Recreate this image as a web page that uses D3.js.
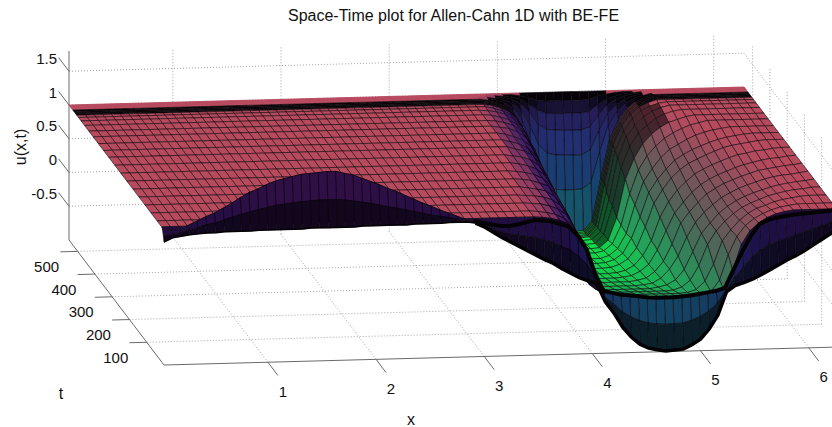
<!DOCTYPE html>
<html>
<head>
<meta charset="utf-8">
<script src="https://cdn.jsdelivr.net/npm/d3@7"></script>
<style>
    body { margin: 0; background: #fff; }
    text { font-family: "Liberation Sans", sans-serif; fill: #111; }
</style>
</head>
<body>
<svg id="plot"></svg>
<script>
//Data
const xTicks = [1, 2, 3, 4, 5, 6];
const tTicks = [100, 200, 300, 400, 500];
const zTicks = [-0.5, 0, 0.5, 1, 1.5];
const xValues = d3.range(0.04, 6.3, 0.08);
const tValues = [0, 4, 9, 14, 40, 75, 110, 145, 180, 215, 250, 285, 320, 350, 380, 410, 435, 460, 480, 495, 505, 510, 516, 522, 528, 534, 538, 541, 544, 547, 550];

const flatLeft = [1,1,1,1,1,1,1,1,1,1,1,1,1,1,1,1,1,1,1,1,1,1,1,1,1,1,1,1,1,1,1,1,1,1,1,1,1,1,1,1,1,1,1,1];
const row0 = [.82,.88,.9,.92,.93,.94,.94,.95,.95,.95,.95,.96,.96,.96,.96,.96,.96,.97,.97,.97,.97,.97,.97,.98,.98,.98,.98,.98,.98,.99,.99,.99,.99,1,1,1,.98,.92,.84,.76,.69,.62,.55,.48,
    .41,.35,.27,.2,.13,.08,.04,-.24,-.41,-.62,-.77,-.88,-.94,-.97,-.99,-.98,-.97,-.91,-.83,-.68,-.48,-.14,-.05,-.01,.04,.1,.17,.24,.31,.37,.44,.52,.6,.68,.76];
const row4 = [.9,.92,.94,.98,1.01,1.05,1.07,1.11,1.15,1.19,1.22,1.25,1.28,1.31,1.32,1.34,1.35,1.36,1.37,1.37,1.37,1.36,1.34,1.32,1.3,1.27,1.24,1.22,1.19,1.16,1.13,1.1,1.08,1.06,1.03,1,.98,.94,.88,.83,.79,.77,.75,.73,
    .69,.65,.59,.53,.43,.3,.1,-.18,-.28,-.4,-.48,-.54,-.58,-.6,-.61,-.6,-.6,-.56,-.51,-.43,-.32,-.13,.06,.2,.35,.46,.53,.58,.62,.66,.7,.75,.79,.84,.88];
const row9 = [.98,.96,.97,1.03,1.09,1.15,1.2,1.27,1.34,1.42,1.49,1.54,1.6,1.65,1.68,1.71,1.74,1.75,1.76,1.77,1.77,1.74,1.71,1.66,1.61,1.56,1.5,1.45,1.39,1.33,1.27,1.22,1.16,1.11,1.06,1.01,.98,.95,.92,.9,.89,.91,.94,.97,
    .96,.94,.9,.86,.72,.52,.15,-.11,-.14,-.17,-.18,-.2,-.22,-.23,-.23,-.23,-.22,-.21,-.19,-.17,-.15,-.11,.16,.42,.65,.82,.88,.91,.93,.95,.96,.97,.98,.99,1];
const tail14 = [.99,.97,.94,.88,.76,.48,.05,-.17,-.24,-.25,-.25,-.25,-.25,-.25,-.25,-.25,-.25,-.25,-.25,-.25,-.24,-.17,.12,.51,.71,.82,.9,.95,.98,1,1,1,1,1,1];
const tail40 = [.99,.97,.94,.88,.77,.49,.06,-.2,-.29,-.32,-.32,-.32,-.32,-.32,-.32,-.32,-.32,-.32,-.32,-.31,-.27,-.1,.27,.54,.7,.8,.87,.92,.96,.98,1,1,1,1,1];
const tail75 = [.99,.98,.95,.9,.81,.59,.19,-.2,-.35,-.39,-.4,-.4,-.4,-.4,-.4,-.4,-.4,-.4,-.39,-.35,-.23,.02,.36,.52,.66,.76,.83,.87,.92,.95,.97,.99,1,1,1];
const tail110 = [.99,.98,.96,.92,.83,.66,.26,-.21,-.42,-.47,-.48,-.48,-.48,-.48,-.48,-.48,-.48,-.47,-.43,-.33,-.12,.19,.39,.53,.64,.73,.79,.84,.89,.92,.95,.97,.98,1,1];
const tail145 = [1,.98,.96,.93,.85,.7,.34,-.19,-.47,-.54,-.56,-.56,-.56,-.56,-.56,-.56,-.54,-.51,-.44,-.29,-.03,.24,.39,.53,.63,.71,.77,.82,.86,.9,.93,.95,.97,.98,1];
const tail180 = [1,.99,.97,.93,.88,.74,.43,-.09,-.45,-.6,-.63,-.63,-.63,-.63,-.63,-.62,-.6,-.53,-.4,-.21,.07,.28,.43,.54,.64,.71,.77,.82,.86,.9,.93,.95,.96,.98,1];
const tail215 = [1,.99,.97,.94,.88,.77,.5,.02,-.45,-.63,-.68,-.69,-.69,-.69,-.69,-.67,-.64,-.55,-.4,-.15,.16,.32,.46,.58,.66,.73,.78,.83,.87,.91,.93,.95,.97,.98,1];
const tail250 = [1,1,.98,.95,.9,.8,.6,.12,-.43,-.68,-.73,-.75,-.75,-.75,-.74,-.72,-.66,-.56,-.35,-.07,.19,.35,.49,.6,.68,.74,.79,.84,.88,.91,.94,.96,.97,.99,1];
const tail285 = [1,1,.98,.96,.92,.83,.66,.24,-.37,-.69,-.78,-.8,-.8,-.8,-.79,-.76,-.69,-.55,-.33,.01,.24,.41,.53,.64,.71,.77,.82,.87,.91,.93,.96,.97,.99,1,1];
const tail320 = [1,1,1,.96,.93,.86,.71,.36,-.23,-.64,-.8,-.84,-.84,-.84,-.83,-.79,-.71,-.55,-.25,.1,.3,.47,.59,.68,.74,.8,.85,.9,.93,.95,.97,.99,1,1,1];
const tail350 = [1,1,1,.97,.93,.87,.74,.45,-.08,-.61,-.8,-.86,-.87,-.87,-.86,-.82,-.73,-.51,-.2,.16,.35,.5,.63,.71,.78,.83,.88,.92,.95,.97,.99,1,1,1,1];
const tail380 = [1,1,1,.98,.94,.89,.79,.56,.05,-.56,-.82,-.88,-.9,-.9,-.9,-.86,-.76,-.54,-.12,.22,.41,.57,.69,.76,.83,.89,.93,.96,.98,1,1,1,1,1,1];
const tail410 = [1,1,1,.98,.96,.91,.82,.64,.19,-.46,-.8,-.9,-.92,-.92,-.92,-.89,-.79,-.52,-.06,.29,.5,.64,.75,.83,.89,.94,.97,1,1,1,1,1,1,1,1];
const tail435 = [1,1,1,.99,.96,.92,.83,.66,.24,-.38,-.77,-.9,-.94,-.94,-.94,-.93,-.82,-.49,.07,.38,.59,.73,.83,.9,.94,.98,1,1,1,1,1,1,1,1,1];
const tail460 = [1,1,1,.99,.96,.92,.84,.71,.36,-.22,-.72,-.9,-.95,-.96,-.96,-.95,-.82,-.41,.16,.47,.67,.78,.88,.94,.98,1,1,1,1,1,1,1,1,1,1];
const tail480 = [1,1,1,.99,.97,.93,.86,.73,.42,-.14,-.69,-.9,-.96,-.97,-.97,-.96,-.85,-.38,.23,.55,.71,.84,.92,.97,1,1,1,1,1,1,1,1,1,1,1];
const tail495 = [1,1,1,1,.97,.93,.87,.74,.49,-.05,-.66,-.92,-.97,-.98,-.98,-.97,-.84,-.31,.29,.58,.76,.88,.94,.98,1,1,1,1,1,1,1,1,1,1,1];
const tail505 = [1,1,1,1,.98,.94,.88,.76,.52,.02,-.62,-.92,-.98,-1,-1,-.99,-.85,-.22,.34,.63,.8,.9,.96,1,1,1,1,1,1,1,1,1,1,1,1];
const tail534 = [1,1,1,1,.99,.96,.92,.83,.66,.31,-.13,-.34,-.39,-.4,-.4,-.39,-.3,.15,.54,.74,.86,.93,.97,1,1,1,1,1,1,1,1,1,1,1,1];
const tail538 = [1,1,1,1,.99,.97,.95,.89,.78,.56,.27,.14,.11,.1,.1,.1,.17,.45,.7,.83,.91,.96,.98,1,1,1,1,1,1,1,1,1,1,1,1];
const tail541 = [1,1,1,1,1,.98,.97,.94,.87,.74,.56,.48,.47,.46,.46,.46,.5,.67,.82,.9,.95,.97,.99,1,1,1,1,1,1,1,1,1,1,1,1];
const tail544 = [1,1,1,1,1,.99,.98,.96,.93,.85,.76,.71,.7,.7,.7,.7,.72,.82,.9,.94,.97,.98,.99,1,1,1,1,1,1,1,1,1,1,1,1];
const tail547 = [1,1,1,1,1,1,.99,.99,.97,.94,.9,.88,.88,.88,.88,.88,.89,.93,.96,.98,.99,.99,1,1,1,1,1,1,1,1,1,1,1,1,1];
const tail550 = [1,1,1,1,1,1,1,1,1,1,1,1,1,1,1,1,1,1,1,1,1,1,1,1,1,1,1,1,1,1,1,1,1,1,1];

const uRows = [row0, row4, row9].concat([
    tail14, tail40, tail75, tail110, tail145, tail180, tail215, tail250, tail285, tail320, tail350, tail380,
    tail410, tail435, tail460, tail480, tail495, tail505, tail505, tail505, tail505, tail505,
    tail534, tail538, tail541, tail544, tail547, tail550
].map(tail => flatLeft.concat(tail)));

//Canvas
let width = 832;
let height = 427;
let svg = d3.select('#plot').attr('width', width).attr('height', height);

//Scales, the box is a flat projection so each data axis gets its own screen shift
const xMin = 0.04, xMax = 6.28, tMax = 550, zMin = -1, zMax = 1.8;
const xToPx = d3.scaleLinear().domain([xMin, xMax]).range([164, 839]);
const xToPy = d3.scaleLinear().domain([xMin, xMax]).range([0, -18]);
const tToPx = d3.scaleLinear().domain([0, tMax]).range([0, -95]);
const tToPy = d3.scaleLinear().domain([0, tMax]).range([0, -125]);
const zToPy = d3.scaleLinear().domain([zMin, zMax]).range([365, 176]);

let project = (x, t, z) => [xToPx(x) + tToPx(t), zToPy(z) + xToPy(x) + tToPy(t)];

let segment = (g, a, b, stroke, w, dash) => {
    let p = project(...a), q = project(...b);
    g.append('line')
        .attr('x1', p[0]).attr('y1', p[1])
        .attr('x2', q[0]).attr('y2', q[1])
        .attr('stroke', stroke)
        .attr('stroke-width', w)
        .attr('stroke-dasharray', dash || null);
}

let drawGrid = () => {
    let g = svg.append('g');
    let dot = '#9a9a9a';
    xTicks.forEach(x => {
        segment(g, [x, 0, zMin], [x, tMax, zMin], dot, 0.9, '1 2');
        segment(g, [x, tMax, zMin], [x, tMax, zMax], dot, 0.9, '1 2');
    });
    tTicks.forEach(t => {
        segment(g, [xMin, t, zMin], [xMax, t, zMin], dot, 0.9, '1 2');
        segment(g, [xMax, t, zMin], [xMax, t, zMax], dot, 0.9, '1 2');
    });
    zTicks.forEach(z => {
        segment(g, [xMin, tMax, z], [xMax, tMax, z], dot, 0.9, '1 2');
        segment(g, [xMax, tMax, z], [xMax, 0, z], dot, 0.9, '1 2');
    });
}

let drawAxes = () => {
    let g = svg.append('g');
    let axisColor = '#6a6a6a';
    segment(g, [xMin, tMax, zMin], [xMin, tMax, zMax], axisColor, 1);
    segment(g, [xMin, 0, zMin], [xMin, tMax, zMin], axisColor, 1);
    segment(g, [xMin, 0, zMin], [xMax, 0, zMin], axisColor, 1);
    xTicks.forEach(x => segment(g, [x, 0, zMin], [x, -58, zMin], axisColor, 1));
    tTicks.forEach(t => segment(g, [xMin, t, zMin], [xMin - 0.16, t, zMin], axisColor, 1));
    zTicks.forEach(z => segment(g, [xMin, tMax, z], [xMin, tMax + 60, z], axisColor, 1));
}

//Colours come from height for the open surface and from the two end walls
const surfaceColor = d3.scaleLinear()
    .domain([-1, -0.75, -0.4, 0, 0.4, 0.75, 0.96])
    .range(['#10e048', '#14c850', '#24a05a', '#3a7458', '#5e5c58', '#8a505c', '#b84a5e'])
    .clamp(true);
const frontWall = d3.scaleLinear()
    .domain([-1, -0.4, 0.2, 0.8, 1.8])
    .range(['#125868', '#134262', '#1b1c5a', '#1e0e42', '#360f48'])
    .clamp(true);
const backWall = d3.scaleLinear()
    .domain([-1, -0.3, 0.3, 0.7, 0.92])
    .range(['#156268', '#164270', '#222e72', '#241c58', '#060308'])
    .clamp(true);

let cellColor = (i, j, zAvg, zx) => {
    let t = tValues[j];
    if (t < 14) {
        let c = frontWall(zAvg);
        return t < 4 ? d3.interpolateRgb(c, '#050205')(0.6) : c;
    }
    if (t >= 528 && zAvg < 0.985) return backWall(zAvg);
    if (t >= 505 && t < 528 && zAvg > 0.9) return '#0c0508';
    let c = surfaceColor(zAvg);
    if (zx < 0) {
        let k = Math.min(1, -zx / 0.8);
        c = d3.interpolateRgb(c, '#3c1a68')(k);
        if (zx < -1.2) c = d3.interpolateRgb(c, '#0c0614')(Math.min(1, (-zx - 1.2) / 2.5));
    } else if (t >= 435 && zx > 0.5) {
        //rows bunch up along the far fold of the well
        c = d3.interpolateRgb(c, '#050205')(0.55);
    }
    return c;
}

let drawSurface = () => {
    let g = svg.append('g');
    let cell = d3.line().curve(d3.curveLinearClosed);
    for (let j = tValues.length - 2; j >= 0; j--) {
        for (let i = xValues.length - 2; i >= 0; i--) {
            let z00 = uRows[j][i], z10 = uRows[j][i + 1], z01 = uRows[j + 1][i], z11 = uRows[j + 1][i + 1];
            let zAvg = (z00 + z10 + z01 + z11) / 4;
            let zx = ((z10 + z11) - (z00 + z01)) / 2 / (xValues[i + 1] - xValues[i]);
            let fill = cellColor(i, j, zAvg, zx);
            let topStrip = tValues[j] >= 528 && zAvg >= 0.985;
            g.append('path')
                .attr('d', cell([
                    project(xValues[i], tValues[j], z00),
                    project(xValues[i + 1], tValues[j], z10),
                    project(xValues[i + 1], tValues[j + 1], z11),
                    project(xValues[i], tValues[j + 1], z01)
                ]))
                .attr('fill', fill)
                .attr('stroke', topStrip ? fill : '#0a0508')
                .attr('stroke-opacity', topStrip ? 1 : 0.72)
                .attr('stroke-width', 0.8);
        }
    }
    //heavy edge lines, the original has rows packed so tight they go solid
    let edge = d3.line();
    let heavy = (points, w) => g.append('path')
        .attr('d', edge(points))
        .attr('fill', 'none').attr('stroke', '#050205').attr('stroke-width', w);
    let frontEdge = xValues.map((x, i) => project(x, 0, uRows[0][i]));
    heavy(frontEdge.slice(0, 37), 1.5);
    heavy(frontEdge.slice(36), 3.5);
    heavy(xValues.map((x, i) => project(x, 9, uRows[2][i])).slice(36), 4);
}

let drawText = () => {
    let label = (x, y, s, anchor, size) => svg.append('text')
        .attr('x', x).attr('y', y)
        .attr('text-anchor', anchor || 'middle')
        .attr('dominant-baseline', 'central')
        .attr('font-size', size || 15)
        .text(s);
    xTicks.forEach(x => {
        let p = project(x, 0, zMin);
        label(p[0] + 15, p[1] + 29, x);
    });
    tTicks.forEach(t => {
        let p = project(xMin, t, zMin);
        label(p[0] - 31, p[1] + 15, t);
    });
    zTicks.forEach(z => {
        let p = project(xMin, tMax, z);
        label(57, p[1] - 13, z, 'end');
    });
    label(453.5, 15, 'Space-Time plot for Allen-Cahn 1D with BE-FE', 'middle', 16);
    label(411, 419, 'x', 'middle', 16);
    label(61, 393, 't', 'middle', 16);
    label(0, 0, 'u(x,t)', 'middle', 16).attr('transform', 'translate(20,147) rotate(-90)');
}

drawGrid();
drawAxes();
drawSurface();
drawText();
</script>
</body>
</html>
